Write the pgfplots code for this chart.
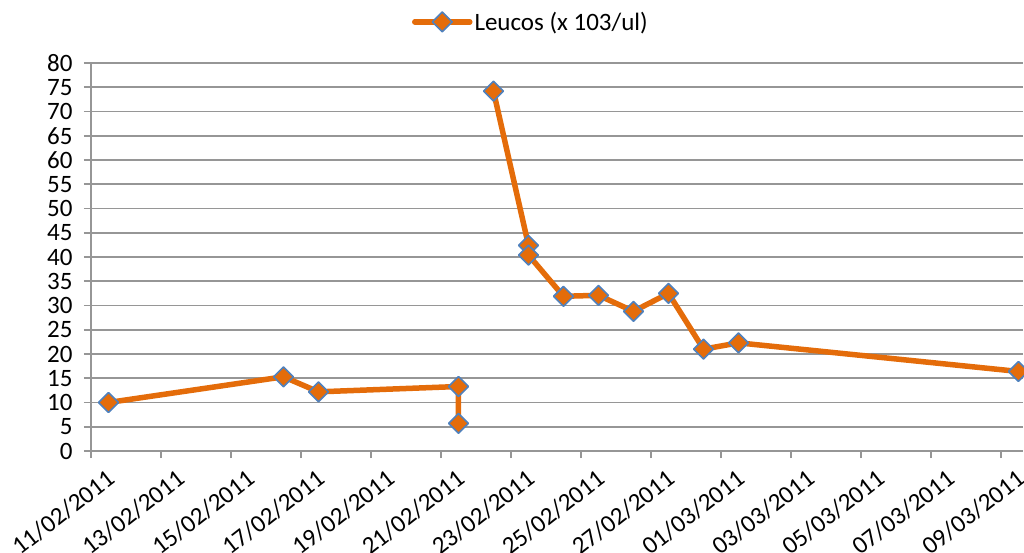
\documentclass[border=0pt]{standalone}
\usepackage{pgfplots}
\pgfplotsset{compat=1.18}
\usepackage{fontspec}
\setmainfont{Carlito}
\definecolor{leuco}{RGB}{228,108,10}
\definecolor{mkedge}{RGB}{79,129,189}
\definecolor{gridc}{RGB}{150,150,150}

\begin{document}
\begin{tikzpicture}[x=1pt,y=1pt]
\begin{axis}[
  at={(0,0)}, anchor=south west,
  scale only axis, width=932pt, height=388pt,
  xmin=0, xmax=26.63, ymin=0, ymax=80,
  axis lines*=left,
  axis line style={gridc, line width=1.6pt},
  ytick={0,5,...,80},
  ymajorgrids,
  grid style={gridc, line width=1.6pt},
  xtick={0,2,...,26},
  xticklabels={11/02/2011,13/02/2011,15/02/2011,17/02/2011,19/02/2011,21/02/2011,23/02/2011,25/02/2011,27/02/2011,01/03/2011,03/03/2011,05/03/2011,07/03/2011,09/03/2011},
  tick align=outside,
  major tick length=7pt,
  tick style={gridc, line width=1.6pt},
  font=\fontsize{25}{30}\selectfont,
  /pgf/number format/assume math mode=true,
  yticklabel style={xshift=-8pt},
  xticklabel style={xshift=15pt, yshift=-5pt, rotate=38, anchor=north east},
  clip mode=individual,
  unbounded coords=jump,
  legend style={at={(0.472,1.106)}, anchor=center, draw=none, fill=none,
    font=\fontsize{25}{30}\selectfont},
  legend image code/.code={\draw[mark repeat=2,mark phase=2,#1] plot coordinates {(0pt,0pt) (27.5pt,0pt) (55pt,0pt)};},
]
\addplot[leuco, line width=5.5pt, line join=round, line cap=round,
  mark=square*, mark size=7pt,
  mark options={rotate=45, fill=leuco, draw=mkedge, line width=1.6pt}]
  coordinates {
  (0.5,10.0) (5.5,15.3) (6.5,12.2) (10.5,13.3) (10.5,5.7)
  (11,nan)
  (11.5,74.2) (12.5,42.4) (12.5,40.4) (13.5,31.9) (14.5,32.1)
  (15.5,28.8) (16.5,32.5) (17.5,21.0) (18.5,22.3) (26.5,16.4)
  };
\legend{Leucos (x 103/ul)}
\end{axis}
\pgfresetboundingbox
\path (-91,-101) rectangle (933,451);
\end{tikzpicture}
\end{document}
